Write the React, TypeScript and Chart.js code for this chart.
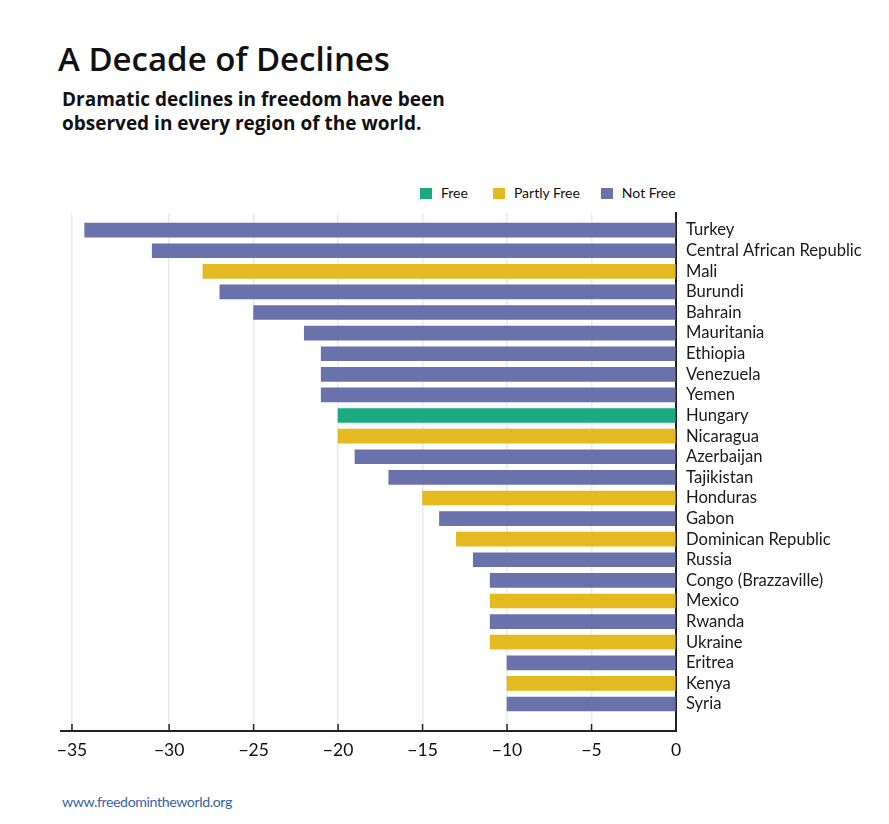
import React, { useEffect, useRef } from "react";
import { Chart, registerables } from "chart.js";

Chart.register(...registerables);

const categories = [
  "Turkey", "Central African Republic", "Mali", "Burundi", "Bahrain", "Mauritania",
  "Ethiopia", "Venezuela", "Yemen", "Hungary", "Nicaragua", "Azerbaijan", "Tajikistan",
  "Honduras", "Gabon", "Dominican Republic", "Russia", "Congo (Brazzaville)", "Mexico",
  "Rwanda", "Ukraine", "Eritrea", "Kenya", "Syria",
];
const values = [
  -35, -31, -28, -27, -25, -22, -21, -21, -21, -20, -20, -19, -17, -15, -14, -13, -12,
  -11, -11, -11, -11, -10, -10, -10,
];
const statuses = [
  "Not Free", "Not Free", "Partly Free", "Not Free", "Not Free", "Not Free", "Not Free",
  "Not Free", "Not Free", "Free", "Partly Free", "Not Free", "Not Free", "Partly Free",
  "Not Free", "Partly Free", "Not Free", "Not Free", "Partly Free", "Not Free",
  "Partly Free", "Not Free", "Partly Free", "Not Free",
];
const statusNames = ["Free", "Partly Free", "Not Free"];
const statusColors: Record<string, string> = {
  Free: "#18ab80",
  "Partly Free": "#e5b920",
  "Not Free": "#6a72ab",
};
const xTickValues = [-35.75, -30, -25, -20, -15, -10, -5, 0];
const xTickLabels = ["\u221235", "\u221230", "\u221225", "\u221220", "\u221215", "\u221210", "\u22125", "0"];

const FONT = "Lato, 'Open Sans', sans-serif";
const HEAD = "'Open Sans', Lato, sans-serif";

const innerTicks = {
  id: "innerTicks",
  afterDatasetsDraw(chart: any) {
    const x = chart.scales.x;
    const area = chart.chartArea;
    const ctx = chart.ctx;
    ctx.save();
    ctx.strokeStyle = "#222";
    ctx.lineWidth = 1.5;
    x.ticks.forEach((t: any) => {
      const px = x.getPixelForValue(t.value);
      ctx.beginPath();
      ctx.moveTo(px, area.bottom - 7);
      ctx.lineTo(px, area.bottom);
      ctx.stroke();
    });
    ctx.restore();
  },
};

export default function App() {
  const ref = useRef<HTMLCanvasElement>(null);
  useEffect(() => {
    if (!ref.current) return;
    const chart = new Chart(ref.current, {
      type: "bar",
      data: {
        datasets: [
          {
            data: values.map((v, i) => ({ x: v, y: i })),
            backgroundColor: statuses.map((s) => statusColors[s]),
            barThickness: 14,
          },
        ],
      },
      options: {
        indexAxis: "y",
        animation: false,
        responsive: false,
        layout: { padding: { left: 53, top: 8, right: 0, bottom: 0 } },
        plugins: { legend: { display: false }, tooltip: { enabled: false } },
        scales: {
          x: {
            type: "linear",
            min: -36.4,
            max: 0,
            offset: false,
            afterBuildTicks: (s: any) => {
              s.ticks = xTickValues.map((v) => ({ value: v }));
            },
            afterFit: (s: any) => {
              s.height = 34;
              s.paddingLeft = 0;
              s.paddingRight = 0;
            },
            grid: { color: "#eaeaea", lineWidth: 1.5, drawTicks: false },
            border: { display: true, color: "#222", width: 2 },
            ticks: {
              padding: 9,
              color: "#111",
              font: { family: FONT, size: 17.5 },
              callback: (v: any) => {
                const i = xTickValues.indexOf(Number(v));
                return i >= 0 ? xTickLabels[i] : "";
              },
            },
          },
          y: {
            type: "linear",
            position: "right",
            reverse: true,
            offset: false,
            min: -0.83,
            max: 24.31,
            afterBuildTicks: (s: any) => {
              s.ticks = categories.map((_, i) => ({ value: i }));
            },
            afterFit: (s: any) => {
              s.width = 205;
              s.paddingTop = 0;
              s.paddingBottom = 0;
            },
            grid: { display: false, drawTicks: false, offset: false },
            border: { display: true, color: "#222", width: 2 },
            ticks: {
              padding: 10,
              color: "#1a1a1a",
              autoSkip: false,
              font: { family: FONT, size: 16.6 },
              callback: (v: any) => categories[Number(v)] ?? "",
            },
          },
        },
      },
      plugins: [innerTicks],
    } as any);
    return () => chart.destroy();
  }, []);

  return (
    <div style={{ position: "relative", width: 873, height: 808, fontFamily: FONT, color: "#111" }}>
      <div style={{ position: "absolute", left: 50, top: 33, fontFamily: HEAD, fontSize: 33, fontWeight: 600, lineHeight: "36px", whiteSpace: "nowrap" }}>
        A Decade of Declines
      </div>
      <div style={{ position: "absolute", left: 54, top: 79, fontFamily: HEAD, fontSize: 19, fontWeight: 700, lineHeight: "24px", whiteSpace: "nowrap" }}>
        Dramatic declines in freedom have been
        <br />
        observed in every region of the world.
      </div>
      <div style={{ position: "absolute", left: 412, top: 177, display: "flex", alignItems: "center", fontSize: 14, lineHeight: "16px", whiteSpace: "nowrap" }}>
        {statusNames.map((s, i) => (
          <div key={s} style={{ display: "flex", alignItems: "center", marginLeft: i === 0 ? 0 : i === 1 ? 25 : 21 }}>
            <span style={{ display: "inline-block", width: 12, height: 11, background: statusColors[s], marginRight: 9 }} />
            <span>{s}</span>
          </div>
        ))}
      </div>
      <canvas ref={ref} width={873} height={560} style={{ position: "absolute", left: 0, top: 197 }} />
      <div style={{ position: "absolute", left: 54, top: 785, fontSize: 14.2, color: "#3a62a8", letterSpacing: -0.4, whiteSpace: "nowrap" }}>
        www.freedomintheworld.org
      </div>
    </div>
  );
}
